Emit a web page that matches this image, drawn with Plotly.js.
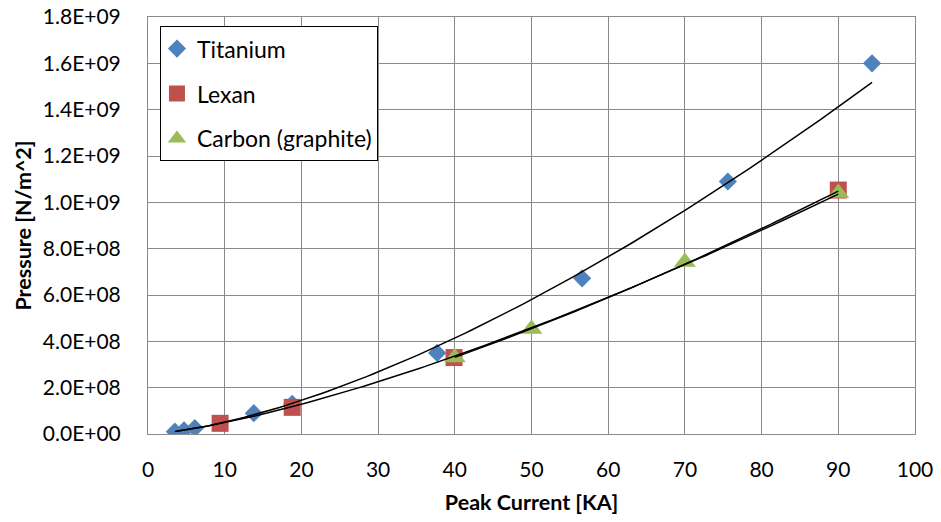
<!DOCTYPE html>
<html>
<head>
<meta charset="utf-8">
<script src="https://cdn.plot.ly/plotly-3.0.1.min.js"></script>
<style>
  html, body { margin: 0; padding: 0; background: #fff; }
  #chart { width: 941px; height: 522px; }
</style>
</head>
<body>
<div id="chart"></div>
<script>
// ---- Data ----
const titaniumX = [3.5, 4.7, 6.1, 13.8, 18.8, 37.7, 56.6, 75.6, 94.4];
const titaniumY = [1.0e7, 1.6e7, 2.5e7, 9.0e7, 1.3e8, 3.50e8, 6.72e8, 1.09e9, 1.60e9];

const lexanX = [9.4, 18.8, 39.9, 90.0];
const lexanY = [4.6e7, 1.15e8, 3.30e8, 1.053e9];

const carbonX = [40.0, 50.0, 70.0, 90.0];
const carbonY = [3.30e8, 4.53e8, 7.42e8, 1.040e9];

const seriesNames = ["Titanium", "Lexan", "Carbon (graphite)"];
const seriesColors = ["#4F81BD", "#C0504D", "#9BBB59"];
const seriesSymbols = ["diamond", "square", "triangle-up"];

// x-extent over which each power trendline is drawn
const trendFrom = [3.5, 3.7, 40.0];
const trendTo = [94.4, 90.0, 90.0];

const xTicks = [0, 10, 20, 30, 40, 50, 60, 70, 80, 90, 100];
const yTicks = [0, 2e8, 4e8, 6e8, 8e8, 1e9, 1.2e9, 1.4e9, 1.6e9, 1.8e9];

// ---- helpers ----
function excelSci(v) {
  if (v === 0) return "0.0E+00";
  const e = Math.floor(Math.log10(Math.abs(v)) + 1e-9);
  const m = v / Math.pow(10, e);
  return m.toFixed(1) + "E+" + (e < 10 ? "0" + e : "" + e);
}

function powerFit(xs, ys) {
  const n = xs.length;
  let sx = 0, sy = 0, sxx = 0, sxy = 0;
  for (let i = 0; i < n; i++) {
    const lx = Math.log(xs[i]), ly = Math.log(ys[i]);
    sx += lx; sy += ly; sxx += lx * lx; sxy += lx * ly;
  }
  const b = (n * sxy - sx * sy) / (n * sxx - sx * sx);
  const a = Math.exp((sy - b * sx) / n);
  return { a, b };
}

function trendTrace(xs, ys, x0, x1) {
  const f = powerFit(xs, ys);
  const tx = [], ty = [];
  const N = 120;
  for (let i = 0; i <= N; i++) {
    const x = x0 + (x1 - x0) * i / N;
    tx.push(x);
    ty.push(f.a * Math.pow(x, f.b));
  }
  return {
    x: tx, y: ty, type: "scatter", mode: "lines",
    line: { color: "#000000", width: 1.5 },
    showlegend: false, hoverinfo: "skip"
  };
}

const allX = [titaniumX, lexanX, carbonX];
const allY = [titaniumY, lexanY, carbonY];
const markerSizes = [14, 17, 19];

const traces = [];
for (let i = 0; i < 3; i++) {
  traces.push({
    x: allX[i], y: allY[i], type: "scatter", mode: "markers",
    name: seriesNames[i], legendgroup: "g" + i,
    marker: { symbol: seriesSymbols[i], color: seriesColors[i], size: markerSizes[i], line: { width: 0 } }
  });
}
for (let i = 0; i < 3; i++) {
  traces.push(trendTrace(allX[i], allY[i], trendFrom[i], trendTo[i]));
}

const gridColor = "#8A8A8A";
const fontFam = "Lato, 'DejaVu Sans', sans-serif";

const layout = {
  width: 941, height: 522,
  margin: { l: 148, r: 26, t: 17, b: 88, pad: 0 },
  paper_bgcolor: "#ffffff", plot_bgcolor: "#ffffff",
  font: { family: fontFam, size: 21, color: "#000000" },
  showlegend: true,
  legend: {
    x: 0.0156, y: 0.978, xanchor: "left", yanchor: "top",
    bgcolor: "#ffffff", bordercolor: "#000000", borderwidth: 1,
    font: { family: fontFam, size: 23, color: "#000000" },
    tracegroupgap: 12, indentation: -4
  },
  xaxis: {
    range: [0, 100], tickvals: xTicks, ticktext: xTicks.map(String),
    showgrid: true, gridcolor: gridColor, gridwidth: 1,
    zeroline: false, showline: true, linecolor: gridColor, linewidth: 1, mirror: true,
    ticks: "", ticklabelstandoff: 17,
    tickfont: { family: fontFam, size: 21, color: "#000000" },
    title: { text: "<b>Peak Current [KA]</b>", font: { family: fontFam, size: 21.5, color: "#000000" }, standoff: 14 }
  },
  yaxis: {
    range: [0, 1.8e9], tickvals: yTicks, ticktext: yTicks.map(excelSci),
    showgrid: true, gridcolor: gridColor, gridwidth: 1,
    zeroline: false, showline: true, linecolor: gridColor, linewidth: 1, mirror: true,
    ticks: "", ticklabelstandoff: 22,
    tickfont: { family: fontFam, size: 21, color: "#000000" },
    title: { text: "<b>Pressure [N/m^2]</b>", font: { family: fontFam, size: 21.5, color: "#000000" }, standoff: 5 }
  }
};

Plotly.newPlot("chart", traces, layout, { displayModeBar: false, staticPlot: true });
</script>
</body>
</html>
